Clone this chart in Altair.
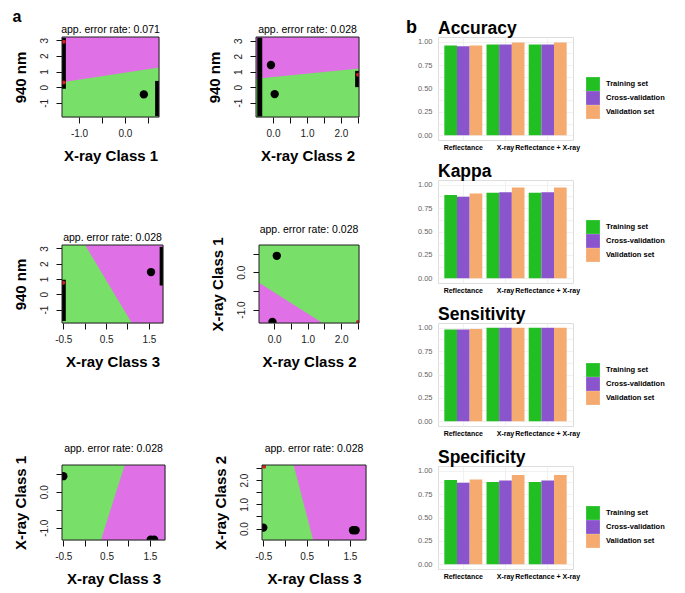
import altair as alt
import pandas as pd

FONT = "Liberation Sans"
GREEN_BG = "#78DF68"
MAGENTA = "#E070E6"
BAR_COLORS = ["#22BF22", "#8A55CC", "#F5AA70"]

# ---------------- Panel a : partition plots ----------------
pa_titles = ["app. error rate: 0.071", "app. error rate: 0.028", "app. error rate: 0.028",
             "app. error rate: 0.028", "app. error rate: 0.028", "app. error rate: 0.028"]
pa_xlabels = ["X-ray Class 1", "X-ray Class 2", "X-ray Class 3",
              "X-ray Class 2", "X-ray Class 3", "X-ray Class 3"]
pa_ylabels = ["940 nm", "940 nm", "940 nm", "X-ray Class 1", "X-ray Class 1", "X-ray Class 2"]
pa_xdomain = [[-1.37, 0.74], [-0.5, 2.53], [-0.53, 1.83], [-0.45, 2.53], [-0.53, 1.85], [-0.53, 1.87]]
pa_ydomain = [[-1.9, 3.2], [-1.93, 3.24], [-1.88, 3.22], [-1.36, 0.73], [-1.34, 0.74], [-0.47, 2.62]]
pa_xticks = [[-1.0, -0.5, 0.0, 0.5], [0.0, 0.5, 1.0, 1.5, 2.0, 2.5], [-0.5, 0.0, 0.5, 1.0, 1.5],
             [0.0, 0.5, 1.0, 1.5, 2.0, 2.5], [-0.5, 0.0, 0.5, 1.0, 1.5], [-0.5, 0.0, 0.5, 1.0, 1.5]]
pa_xticklabels = [["-1.0", "", "0.0", ""], ["0.0", "", "1.0", "", "2.0", ""], ["-0.5", "", "0.5", "", "1.5"],
                  ["0.0", "", "1.0", "", "2.0", ""], ["-0.5", "", "0.5", "", "1.5"], ["-0.5", "", "0.5", "", "1.5"]]
pa_yticks = [[-1, 0, 1, 2, 3], [-1, 0, 1, 2, 3], [-1, 0, 1, 2, 3],
             [-1.0, -0.5, 0.0, 0.5], [-1.0, -0.5, 0.0, 0.5], [0.0, 0.5, 1.0, 1.5, 2.0, 2.5]]
pa_yticklabels = [["-1", "0", "1", "2", "3"], ["-1", "0", "1", "2", "3"], ["-1", "0", "1", "2", "3"],
                  ["-1.0", "", "0.0", ""], ["-1.0", "", "0.0", ""], ["0.0", "", "1.0", "", "2.0", ""]]

# decision boundary (two points on the line) and the edge the magenta class region reaches
pa_boundary_x = [[-1.37, 0.74], [-0.5, 2.53], [0.01, 1.10], [-0.45, 1.44], [0.92, 0.37], [0.20, 0.65]]
pa_boundary_y = [[0.32, 1.26], [0.54, 1.21], [3.22, -1.88], [-0.28, -1.36], [0.74, -1.34], [2.62, -0.47]]
pa_boundary_orient = ["vertical", "vertical", "horizontal", "vertical", "horizontal", "horizontal"]
pa_boundary_edge = [3.2, 3.24, 1.83, -1.36, 1.85, 1.87]

# large black points
pa_dots_x = [[0.41], [-0.06, 0.05], [1.55], [0.08, -0.05], [-0.5, 1.52, 1.6], [-0.5, 1.57, 1.63]]
pa_dots_y = [[-0.46], [1.43, -0.45], [1.45], [0.44, -1.33], [0.43, -1.33, -1.33], [0.04, -0.07, -0.07]]

# dense clusters of observations piled up on the plot edges
pa_strip_x = [[-1.34, 0.71], [-0.39, 2.49], [-0.50, 1.81], [], [], []]
pa_strip_y1 = [[-0.1, -1.85], [-1.9, 0.0], [-1.75, 0.57], [], [], []]
pa_strip_y2 = [[3.15, 0.4], [3.2, 1.05], [0.95, 3.1], [], [], []]

# misclassified (red) observations
pa_red_x = [[-1.33, -1.33], [2.5], [-0.5], [2.5], [], [-0.48]]
pa_red_y = [[0.3, 2.9], [0.8], [0.75], [-1.33], [], [2.55]]

pa_width = [97, 103, 101, 100, 103, 104]
pa_height = [80, 80, 78, 78, 75, 75]

# ---------------- Panel b : model performance ----------------
methods = ["Reflectance", "X-ray", "Reflectance + X-ray"]
sets = ["Training set", "Cross-validation", "Validation set"]
metrics = ["Accuracy", "Kappa", "Sensitivity", "Specificity"]

accuracy_training = [0.96, 0.97, 0.97]
accuracy_cv = [0.95, 0.97, 0.97]
accuracy_validation = [0.96, 0.99, 0.99]
kappa_training = [0.89, 0.915, 0.915]
kappa_cv = [0.87, 0.92, 0.92]
kappa_validation = [0.905, 0.97, 0.97]
sensitivity_training = [0.98, 1.0, 1.0]
sensitivity_cv = [0.98, 1.0, 1.0]
sensitivity_validation = [0.985, 1.0, 1.0]
specificity_training = [0.90, 0.88, 0.88]
specificity_cv = [0.87, 0.895, 0.895]
specificity_validation = [0.905, 0.955, 0.955]

metric_values = {
    "Accuracy": [accuracy_training, accuracy_cv, accuracy_validation],
    "Kappa": [kappa_training, kappa_cv, kappa_validation],
    "Sensitivity": [sensitivity_training, sensitivity_cv, sensitivity_validation],
    "Specificity": [specificity_training, specificity_cv, specificity_validation],
}

grid_values = [0, 0.125, 0.25, 0.375, 0.5, 0.625, 0.75, 0.875, 1.0]


def label_expr(values, labels):
    expr = "''"
    for v, lab in zip(values, labels):
        if lab:
            expr = f"abs(datum.value - ({v})) < 1e-6 ? '{lab}' : " + expr
    return expr


def partition(i):
    xd, yd = pa_xdomain[i], pa_ydomain[i]
    xs = alt.Scale(domain=xd, nice=False, zero=False)
    ys = alt.Scale(domain=yd, nice=False, zero=False)
    common = dict(grid=False, domain=False, ticks=True, tickSize=6, tickColor="#111",
                  tickWidth=1, labelFontSize=10, labelColor="#222", labelFont=FONT,
                  titleFont=FONT, titleFontSize=15, titleFontWeight="bold", titleColor="black",
                  labelFlush=False, labelOverlap=False)
    x_axis = alt.Axis(title=pa_xlabels[i], values=pa_xticks[i],
                      labelExpr=label_expr(pa_xticks[i], pa_xticklabels[i]),
                      labelPadding=5, titlePadding=10, **common)
    y_axis = alt.Axis(title=pa_ylabels[i], values=pa_yticks[i],
                      labelExpr=label_expr(pa_yticks[i], pa_yticklabels[i]),
                      labelAngle=270, labelAlign="center", labelBaseline="bottom",
                      labelPadding=7, titlePadding=11, **common)

    def X(f):
        return alt.X(f, scale=xs, axis=x_axis)

    def Y(f):
        return alt.Y(f, scale=ys, axis=y_axis)

    bg = pd.DataFrame({"x0": [xd[0]], "x1": [xd[1]], "y0": [yd[0]], "y1": [yd[1]]})
    base = alt.Chart(bg).mark_rect(fill=GREEN_BG).encode(
        x=X("x0:Q"), x2="x1:Q", y=Y("y0:Q"), y2="y1:Q")
    rdf = pd.DataFrame({"bx": pa_boundary_x[i], "by": pa_boundary_y[i],
                        "edge": [pa_boundary_edge[i]] * len(pa_boundary_x[i])})
    if pa_boundary_orient[i] == "vertical":
        region = alt.Chart(rdf).mark_area(color=MAGENTA, opacity=1, clip=True).encode(
            x=X("bx:Q"), y=Y("by:Q"), y2="edge:Q")
    else:
        region = alt.Chart(rdf).mark_area(color=MAGENTA, opacity=1, orient="horizontal", clip=True).encode(
            y=Y("by:Q"), x=X("bx:Q"), x2="edge:Q")
    layers = [base, region]
    if pa_strip_x[i]:
        sdf = pd.DataFrame({"sx": pa_strip_x[i], "sy1": pa_strip_y1[i], "sy2": pa_strip_y2[i]})
        layers.append(alt.Chart(sdf).mark_rule(color="black", strokeWidth=5, clip=True).encode(
            x=X("sx:Q"), y=Y("sy1:Q"), y2="sy2:Q"))
    ddf = pd.DataFrame({"dx": pa_dots_x[i], "dy": pa_dots_y[i]})
    layers.append(alt.Chart(ddf).mark_circle(color="black", size=70, opacity=1, clip=True).encode(
        x=X("dx:Q"), y=Y("dy:Q")))
    if pa_red_x[i]:
        redf = pd.DataFrame({"rx": pa_red_x[i], "ry": pa_red_y[i]})
        layers.append(alt.Chart(redf).mark_circle(color="#D42020", size=16, opacity=1, clip=True).encode(
            x=X("rx:Q"), y=Y("ry:Q")))
    frame = alt.Chart(bg).mark_rect(fillOpacity=0, stroke="#222", strokeWidth=1).encode(
        x=X("x0:Q"), x2="x1:Q", y=Y("y0:Q"), y2="y1:Q")
    layers.append(frame)
    return alt.layer(*layers).properties(
        width=pa_width[i], height=pa_height[i],
        title=alt.Title(pa_titles[i], fontSize=10.5, fontWeight="normal", font=FONT,
                        color="black", offset=1, anchor="middle", frame="group"))


def bar_chart(metric):
    rows = []
    for s, vals in zip(sets, metric_values[metric]):
        for m, v in zip(methods, vals):
            rows.append({"method": m, "set": s, "value": v})
    df = pd.DataFrame(rows)
    return alt.Chart(df).mark_bar().encode(
        x=alt.X("method:N", sort=methods,
                scale=alt.Scale(paddingInner=0.1, paddingOuter=0.15),
                axis=alt.Axis(title=None, labelAngle=0, labelFontWeight="bold", labelFontSize=7,
                              labelColor="black", labelFont=FONT, ticks=False, domain=False,
                              grid=True, gridColor="#EEEEEE", gridWidth=0.8, bandPosition=0.5,
                              labelPadding=3, labelOverlap=False, labelLimit=0)),
        xOffset=alt.XOffset("set:N", sort=sets, scale=alt.Scale(paddingInner=0, paddingOuter=0)),
        y=alt.Y("value:Q", scale=alt.Scale(domain=[-0.05, 1.05], nice=False, zero=False),
                axis=alt.Axis(title=None, values=grid_values,
                              labelExpr="(datum.value * 4) % 1 == 0 ? format(datum.value, '.2f') : ''",
                              labelFontSize=7.5, labelColor="#666", labelFont=FONT, ticks=False,
                              domain=False, grid=True, gridColor="#EEEEEE", gridWidth=0.8,
                              labelPadding=6)),
        y2=alt.datum(0),
        color=alt.Color("set:N", sort=sets,
                        scale=alt.Scale(domain=sets, range=BAR_COLORS),
                        legend=alt.Legend(title=None, orient="none", legendX=148, legendY=40,
                                          symbolType="square", symbolSize=190, symbolStrokeWidth=0,
                                          symbolOpacity=1, labelFontSize=7.5, labelFontWeight="bold",
                                          labelColor="black", labelFont=FONT, rowPadding=0,
                                          labelOffset=6, padding=0)),
    ).properties(
        width=135, height=103,
        title=alt.Title(metric, anchor="start", frame="group", fontSize=17.5, fontWeight="bold",
                        font=FONT, color="black", offset=0))


p = [partition(i) for i in range(6)]
row1 = alt.hconcat(p[0], p[1], spacing=45)
row2 = alt.hconcat(p[2], p[3], spacing=45)
row3 = alt.hconcat(p[4], p[5], spacing=46)
left = alt.vconcat(alt.vconcat(row1, row2, spacing=60), row3, spacing=73,
                   title=alt.Title("a", anchor="start", fontSize=16, fontWeight="bold",
                                   font=FONT, color="black", offset=0))

right = alt.vconcat(
    *[bar_chart(m) for m in metrics], spacing=11,
    title=alt.Title("b", orient="left", anchor="end", angle=0, align="left",
                    baseline="top", fontSize=18, fontWeight="bold",
                    font=FONT, color="black", offset=0)
).resolve_scale(color="independent", xOffset="independent").resolve_legend(color="independent")

chart = alt.concat(left, right, columns=2, spacing=38, align="none").properties(
    padding={"left": 4, "top": 0, "right": 0, "bottom": 0}
).configure_view(stroke=None).configure(font=FONT, background="white")

chart.save("out.html", embed_options={"renderer": "svg", "actions": False})
